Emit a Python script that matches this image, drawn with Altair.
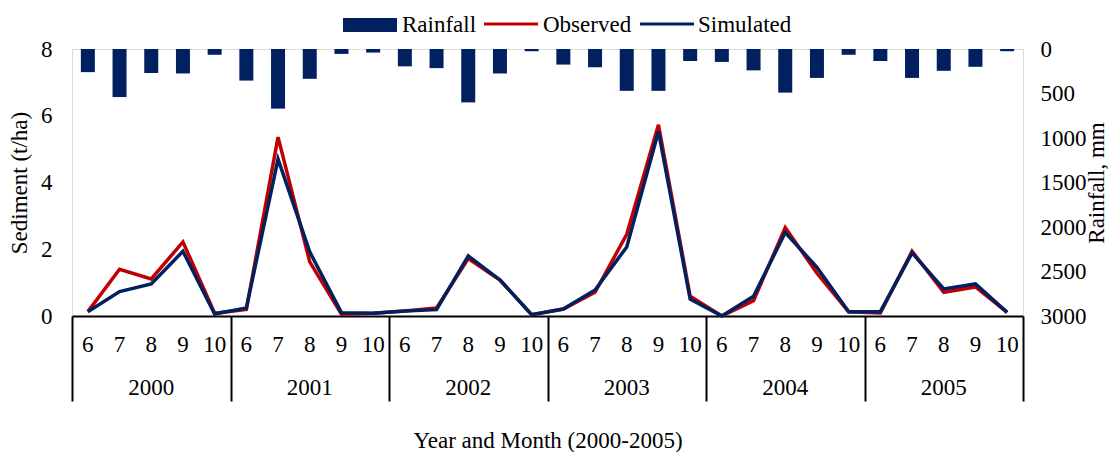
import altair as alt
import pandas as pd

years = ["2000", "2001", "2002", "2003", "2004", "2005"]
months = [6, 7, 8, 9, 10]
rainfall = [260, 540, 270, 275, 65,
            355, 670, 335, 55, 40,
            195, 215, 600, 275, 25,
            175, 205, 470, 470, 135,
            145, 240, 490, 325, 65,
            135, 325, 245, 200, 25]
observed = [0.13, 1.40, 1.11, 2.22, 0.08,
            0.20, 5.36, 1.62, 0.05, 0.08,
            0.15, 0.24, 1.72, 1.08, 0.04,
            0.21, 0.71, 2.45, 5.73, 0.59,
            0.00, 0.46, 2.65, 1.28, 0.13,
            0.09, 1.94, 0.71, 0.87, 0.11]
simulated = [0.13, 0.73, 0.96, 1.94, 0.06,
             0.24, 4.70, 1.92, 0.10, 0.08,
             0.15, 0.19, 1.80, 1.08, 0.04,
             0.21, 0.78, 2.07, 5.53, 0.51,
             0.00, 0.59, 2.50, 1.46, 0.13,
             0.13, 1.89, 0.81, 0.96, 0.11]

rows = []
for yi, yr in enumerate(years):
    for mi, m in enumerate(months):
        k = yi * len(months) + mi
        rows.append({"idx": k, "year": yr, "month": str(m),
                     "rain": rainfall[k], "obs": observed[k], "sim": simulated[k]})
df = pd.DataFrame(rows)
ydf = pd.DataFrame({"year": years, "yidx": list(range(len(years)))})

NAVY = "#002060"
RED = "#C00000"
FONT = "Liberation Serif"
FS = 23
W, H = 951, 267
N = len(years) * len(months)

xscale = alt.Scale(domain=[0, N], nice=False, zero=False, padding=0)

base = alt.Chart(df).transform_calculate(xc="datum.idx + 0.5")

bars = base.mark_bar(color=NAVY, size=14).encode(
    x=alt.X("xc:Q", scale=xscale,
            axis=alt.Axis(values=list(range(0, N + 1, 5)), labels=False, tickSize=85,
                          tickColor="black", tickWidth=2, grid=False, domainColor="black",
                          domainWidth=2, title="Year and Month (2000-2005)",
                          titleFontSize=FS, titleFontWeight="normal", titleFont=FONT,
                          titlePadding=27, titleColor="black")),
    y=alt.Y("rain:Q", scale=alt.Scale(domain=[0, 3000], reverse=True, nice=False),
            axis=alt.Axis(orient="right", values=list(range(0, 3001, 500)), format="d",
                          grid=False, tickSize=0, labelPadding=17, labelFontSize=FS,
                          labelFont=FONT, labelColor="black", domain=False,
                          title="Rainfall, mm", titleAngle=270, titleFontSize=FS,
                          titleFontWeight="normal", titleFont=FONT, titleColor="black",
                          titlePadding=22)),
)

sed_scale = alt.Scale(domain=[0, 8], nice=False)
sed_axis = alt.Axis(values=[0, 2, 4, 6, 8], gridColor="#d9d9d9", gridWidth=2, tickSize=0,
                    labelPadding=20, labelFontSize=FS, labelFont=FONT, labelColor="black",
                    domain=False, title="Sediment (t/ha)", titleFontSize=FS,
                    titleFontWeight="normal", titleFont=FONT, titleColor="black",
                    titlePadding=9)

obs_line = base.mark_line(color=RED, strokeWidth=3.5).encode(
    x=alt.X("xc:Q", scale=xscale),
    y=alt.Y("obs:Q", scale=sed_scale, axis=sed_axis),
)
sim_line = base.mark_line(color=NAVY, strokeWidth=3.5).encode(
    x=alt.X("xc:Q", scale=xscale),
    y=alt.Y("sim:Q", scale=sed_scale),
)

month_text = base.mark_text(font=FONT, fontSize=FS, baseline="middle", color="black").encode(
    x=alt.X("xc:Q", scale=xscale),
    y=alt.value(H + 29),
    text="month:N",
)

year_text = alt.Chart(ydf).transform_calculate(xc="datum.yidx * 5 + 2.5").mark_text(
    font=FONT, fontSize=FS, baseline="middle", color="black").encode(
    x=alt.X("xc:Q", scale=xscale),
    y=alt.value(H + 72),
    text="year:N",
)

one = alt.Chart(pd.DataFrame({"a": [0]}))
leg_rect = one.mark_rect(color=NAVY).encode(
    x=alt.value(271), x2=alt.value(325), y=alt.value(-31), y2=alt.value(-17))
leg_obs = one.mark_rule(color=RED, strokeWidth=3).encode(
    x=alt.value(412), x2=alt.value(466), y=alt.value(-25))
leg_sim = one.mark_rule(color=NAVY, strokeWidth=3).encode(
    x=alt.value(568), x2=alt.value(622), y=alt.value(-25))
leg_t1 = one.mark_text(font=FONT, fontSize=FS, align="left", baseline="middle",
                       color="black").encode(x=alt.value(330), y=alt.value(-24),
                                             text=alt.value("Rainfall"))
leg_t2 = one.mark_text(font=FONT, fontSize=FS, align="left", baseline="middle",
                       color="black").encode(x=alt.value(471), y=alt.value(-24),
                                             text=alt.value("Observed"))
leg_t3 = one.mark_text(font=FONT, fontSize=FS, align="left", baseline="middle",
                       color="black").encode(x=alt.value(626), y=alt.value(-24),
                                             text=alt.value("Simulated"))

lines = alt.layer(obs_line, sim_line)

chart = alt.layer(
    bars, lines, month_text, year_text,
    leg_rect, leg_obs, leg_sim, leg_t1, leg_t2, leg_t3,
).resolve_scale(y="independent").properties(
    width=W, height=H,
    autosize=alt.AutoSizeParams(type="none"),
    padding={"left": 64, "top": 41, "right": 85, "bottom": 136},
).configure_view(stroke="black", strokeWidth=2).configure(font=FONT)

chart.save("out.html", embed_options={"renderer": "svg", "actions": False})
